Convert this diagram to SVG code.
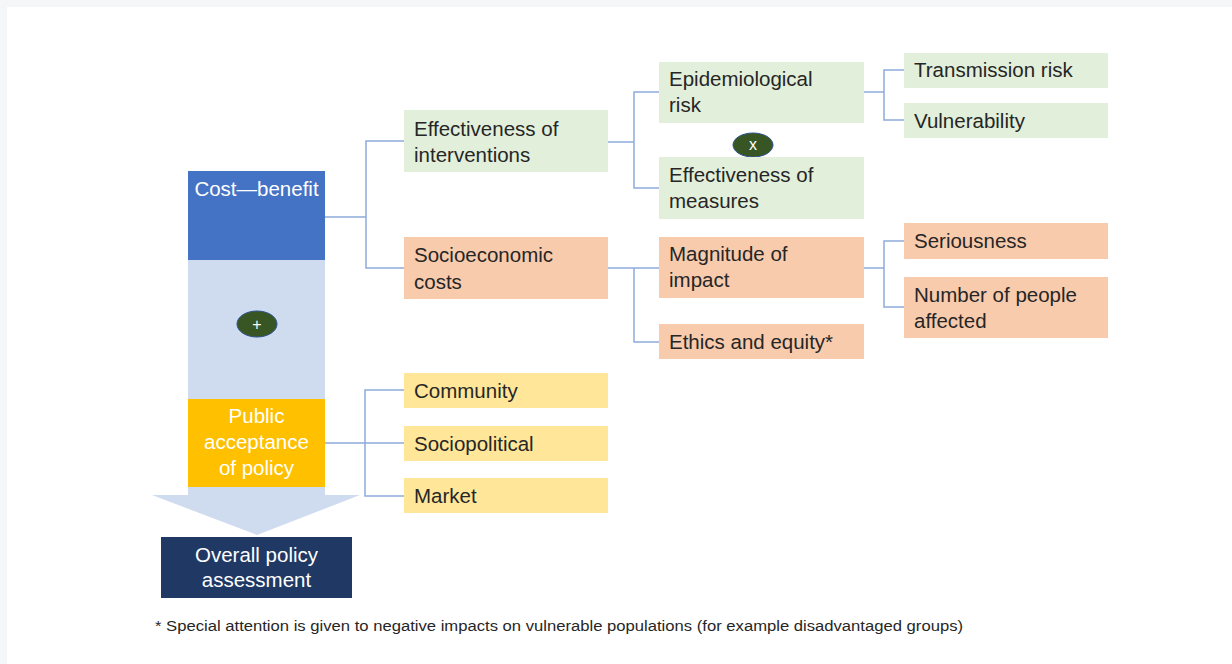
<svg xmlns="http://www.w3.org/2000/svg" width="1232" height="664" viewBox="0 0 1232 664">
<defs>
<style>
text{font-family:"Liberation Sans",Arial,sans-serif;font-size:20.5px;fill:#262626}
.w{fill:#ffffff}
.c{text-anchor:middle}
.g{fill:#e2efda}
.o{fill:#f8cbad}
.y{fill:#ffe699}
.conn{fill:none;stroke:#8eaadb;stroke-width:1.5}
.op{fill:#375623;stroke:#2f528f;stroke-width:1}
.opt{font-size:16px;fill:#ffffff;text-anchor:middle}
</style>
</defs>
<rect x="0" y="0" width="1232" height="664" fill="#f5f6f8"/>
<rect x="7" y="7" width="1225" height="657" fill="#ffffff"/>

<g id="connectors">
<polyline class="conn" points="325,217 366,217"/>
<polyline class="conn" points="404,141 366,141 366,268 404,268"/>
<polyline class="conn" points="608,142 634,142"/>
<polyline class="conn" points="659,92 634,92 634,188 659,188"/>
<polyline class="conn" points="864,92 884,92"/>
<polyline class="conn" points="904,70 884,70 884,120 904,120"/>
<polyline class="conn" points="608,268 659,268"/>
<polyline class="conn" points="634,268 634,342 659,342"/>
<polyline class="conn" points="864,268 884,268"/>
<polyline class="conn" points="904,241 884,241 884,307 904,307"/>
<polyline class="conn" points="325,443 404,443"/>
<polyline class="conn" points="404,390 365,390 365,496 404,496"/>
</g>

<g id="left-column">
<rect x="188" y="260" width="137" height="139" fill="#cfdbef"/>
<polygon points="188,487 325,487 325,495 360,495 257,535 152,495 188,495" fill="#cfdbef"/>
</g>

<g id="cost-benefit">
<rect x="188" y="171" width="137" height="89" fill="#4472c4"/>
<text class="w c" x="256.5" y="196">Cost—benefit</text>
</g>

<g id="plus">
<ellipse class="op" cx="257" cy="324" rx="20" ry="13"/>
<text class="opt" x="257" y="330">+</text>
</g>

<g id="public-acceptance">
<rect x="188" y="399" width="137" height="88" fill="#ffc000"/>
<text class="w c" x="256.5" y="423">Public</text>
<text class="w c" x="256.5" y="449">acceptance</text>
<text class="w c" x="256.5" y="475">of policy</text>
</g>

<g id="overall">
<rect x="161" y="537" width="191" height="61" fill="#203864"/>
<text class="w c" x="256.5" y="562">Overall policy</text>
<text class="w c" x="256.5" y="587">assessment</text>
</g>

<g id="effectiveness-interventions">
<rect class="g" x="404" y="110" width="204" height="62"/>
<text x="414" y="136">Effectiveness of</text>
<text x="414" y="162">interventions</text>
</g>

<g id="socioeconomic">
<rect class="o" x="404" y="237" width="204" height="62"/>
<text x="414" y="262">Socioeconomic</text>
<text x="414" y="289">costs</text>
</g>

<g id="epidemiological">
<rect class="g" x="659" y="62" width="205" height="61"/>
<text x="669" y="86">Epidemiological</text>
<text x="669" y="112">risk</text>
</g>

<g id="times">
<ellipse class="op" cx="753" cy="145" rx="20" ry="12"/>
<text class="opt" x="753" y="150">x</text>
</g>

<g id="effectiveness-measures">
<rect class="g" x="659" y="157" width="205" height="62"/>
<text x="669" y="182">Effectiveness of</text>
<text x="669" y="208">measures</text>
</g>

<g id="transmission">
<rect class="g" x="904" y="53" width="204" height="35"/>
<text x="914" y="77">Transmission risk</text>
</g>

<g id="vulnerability">
<rect class="g" x="904" y="103" width="204" height="35"/>
<text x="914" y="128">Vulnerability</text>
</g>

<g id="magnitude">
<rect class="o" x="659" y="237" width="205" height="61"/>
<text x="669" y="261">Magnitude of</text>
<text x="669" y="287">impact</text>
</g>

<g id="ethics">
<rect class="o" x="659" y="324" width="205" height="35"/>
<text x="669" y="349">Ethics and equity*</text>
</g>

<g id="seriousness">
<rect class="o" x="904" y="223" width="204" height="36"/>
<text x="914" y="248">Seriousness</text>
</g>

<g id="number-affected">
<rect class="o" x="904" y="277" width="204" height="61"/>
<text x="914" y="302">Number of people</text>
<text x="914" y="328">affected</text>
</g>

<g id="community">
<rect class="y" x="404" y="373" width="204" height="35"/>
<text x="414" y="398">Community</text>
</g>

<g id="sociopolitical">
<rect class="y" x="404" y="426" width="204" height="35"/>
<text x="414" y="451">Sociopolitical</text>
</g>

<g id="market">
<rect class="y" x="404" y="478" width="204" height="35"/>
<text x="414" y="503">Market</text>
</g>

<g id="footnote">
<text x="155" y="631" style="font-size:14px" textLength="808" lengthAdjust="spacingAndGlyphs">* Special attention is given to negative impacts on vulnerable populations (for example disadvantaged groups)</text>
</g>
</svg>
